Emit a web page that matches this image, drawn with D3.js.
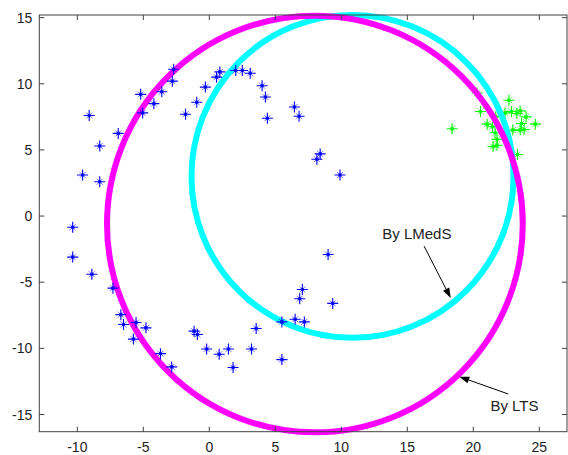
<!DOCTYPE html>
<html>
<head>
<meta charset="utf-8">
<script src="https://cdn.jsdelivr.net/npm/d3@7"></script>
<style>
  body { margin: 0; background: #fff; }
  svg { display: block; }
  text { font-family: Arial, "Liberation Sans", sans-serif; }
</style>
</head>
<body>
<svg id="chart" width="568" height="455"></svg>
<script>
// inlier points (blue stars)
var bluePts = [
  [-9.1, 7.6], [-8.3, 5.3], [-6.9, 6.25], [-5.2, 9.2], [-5.05, 7.8], [-4.2, 8.5],
  [-3.6, 9.4], [-2.8, 10.2], [-2.7, 11.1], [-1.8, 7.7], [-0.95, 8.6], [-9.6, 3.1],
  [-8.3, 2.6], [-10.35, -0.85], [-10.35, -3.1], [-8.9, -4.4], [-7.3, -5.45],
  [-6.7, -7.45], [-6.5, -8.2], [-5.55, -8.05], [-4.8, -8.45], [-5.75, -9.3],
  [-3.7, -10.4], [-2.85, -11.4], [-1.15, -8.7], [-0.9, -8.95], [-0.2, -10.05],
  [0.75, -10.45], [1.45, -10.05], [1.8, -11.45], [3.2, -10.05], [3.55, -8.5],
  [5.5, -10.85], [5.5, -8.0], [6.5, -7.8], [7.2, -8.0], [6.85, -6.25], [7.05, -5.55],
  [9.35, -6.6], [8.4, 4.7], [8.15, 4.3], [9.9, 3.1], [9.0, -2.9], [-0.3, 9.75],
  [0.55, 10.5], [0.8, 10.9], [2.0, 11.0], [2.5, 11.0], [3.1, 10.8], [4.0, 9.85],
  [4.25, 9.0], [4.4, 7.4], [6.45, 8.25], [6.8, 7.55]
];

// outlier cluster (green stars)
var greenPts = [
  [18.4, 6.6], [22.7, 8.75], [20.55, 7.9], [20.3, 9.3], [22.4, 7.8], [22.9, 7.9],
  [23.3, 7.75], [23.55, 7.95], [24.0, 7.5], [24.7, 6.95], [23.65, 7.0], [23.55, 6.5],
  [23.0, 6.5], [23.85, 6.55], [21.05, 6.95], [21.45, 6.75], [21.65, 6.3], [21.8, 5.8],
  [21.8, 5.35], [21.5, 5.25], [23.35, 4.65], [21.7, 7.5]
];

// fitted circles: [cx, cy, r]
var circleLMedS = [10.85, 3.0, 12.2];
var circleLTS = [8.0, -0.6, 15.75];

var xTicks = [-10, -5, 0, 5, 10, 15, 20, 25];
var yTicks = [-15, -10, -5, 0, 5, 10, 15];

// annotations: text anchor, arrow tail, arrow tip (data units)
var notes = [
  {label: "By LMedS", text: [13.1, -1.7], from: [16.27, -2.27], to: [18.29, -6.2]},
  {label: "By LTS", text: [21.3, -14.7], from: [22.65, -13.45], to: [18.94, -12.14]}
];

var svg = d3.select("#chart");
var boxL = 39.3, boxR = 567, boxT = 15, boxB = 431.7;

var scX = d3.scaleLinear().domain([-12.88, 27.1]).range([boxL, boxR]);
var scY = d3.scaleLinear().domain([-16.3, 15.2]).range([boxB, boxT]);

svg.append("rect").attr("width", 568).attr("height", 455).attr("fill", "#fff");

var plus = "M-5.5,0H5.5M0,-5.5V5.5";
var cross = "M-3,-3L3,3M-3,3L3,-3";

function drawStars(pts, col) {
  var g = svg.append("g").attr("stroke", col).attr("fill", col);
  var pos = d => "translate(" + scX(d[0]) + "," + scY(d[1]) + ")";
  g.selectAll("path.p").data(pts).enter().append("path")
    .attr("class", "p").attr("d", plus).attr("stroke-width", 1.1)
    .attr("transform", pos);
  g.selectAll("path.x").data(pts).enter().append("path")
    .attr("class", "x").attr("d", cross).attr("stroke-width", 1)
    .attr("stroke-opacity", 0.55).attr("transform", pos);
  g.selectAll("circle").data(pts).enter().append("circle")
    .attr("r", 1.8).attr("stroke", "none")
    .attr("cx", d => scX(d[0])).attr("cy", d => scY(d[1]));
}

function drawCircle(c, col) {
  svg.append("ellipse")
    .attr("cx", scX(c[0])).attr("cy", scY(c[1]))
    .attr("rx", scX(c[0] + c[2]) - scX(c[0]))
    .attr("ry", scY(c[1]) - scY(c[1] + c[2]))
    .attr("fill", "none").attr("stroke", col).attr("stroke-width", 6);
}

drawStars(greenPts, "#00ff00");
drawCircle(circleLMedS, "#00ffff");
drawCircle(circleLTS, "#ff00ff");
drawStars(bluePts, "#0000ff");

// axes box with inward ticks (MATLAB style)
var axis = svg.append("g").attr("stroke", "#404040").attr("stroke-width", 1).attr("fill", "none");
axis.append("rect").attr("x", boxL).attr("y", boxT)
  .attr("width", boxR - boxL).attr("height", boxB - boxT);

xTicks.forEach(function(t) {
  var x = scX(t);
  axis.append("line").attr("x1", x).attr("x2", x).attr("y1", boxB).attr("y2", boxB - 5);
  axis.append("line").attr("x1", x).attr("x2", x).attr("y1", boxT).attr("y2", boxT + 5);
});
yTicks.forEach(function(t) {
  var y = scY(t);
  axis.append("line").attr("x1", boxL).attr("x2", boxL + 5).attr("y1", y).attr("y2", y);
  axis.append("line").attr("x1", boxR).attr("x2", boxR - 5).attr("y1", y).attr("y2", y);
});

svg.append("g").selectAll("text").data(xTicks).enter().append("text")
  .attr("x", d => scX(d)).attr("y", boxB + 20)
  .attr("text-anchor", "middle").attr("fill", "#222").style("font-size", "14px")
  .text(d => d);

svg.append("g").selectAll("text").data(yTicks).enter().append("text")
  .attr("x", boxL - 7).attr("y", d => scY(d)).attr("dy", "0.36em")
  .attr("text-anchor", "end").attr("fill", "#222").style("font-size", "14px")
  .text(d => d);

// annotation arrows
notes.forEach(function(n) {
  var x1 = scX(n.from[0]), y1 = scY(n.from[1]);
  var x2 = scX(n.to[0]), y2 = scY(n.to[1]);
  var ang = Math.atan2(y2 - y1, x2 - x1);
  var len = 10, w = 3.5;
  var bx = x2 - len * Math.cos(ang), by = y2 - len * Math.sin(ang);
  svg.append("line").attr("x1", x1).attr("y1", y1).attr("x2", bx).attr("y2", by)
    .attr("stroke", "#000").attr("stroke-width", 1);
  var pts = [[x2, y2],
    [bx + w * Math.sin(ang), by - w * Math.cos(ang)],
    [bx - w * Math.sin(ang), by + w * Math.cos(ang)]];
  svg.append("polygon").attr("points", pts.map(p => p.join(",")).join(" ")).attr("fill", "#000");
  svg.append("text").attr("x", scX(n.text[0])).attr("y", scY(n.text[1]))
    .attr("fill", "#222").style("font-size", "15px").text(n.label);
});
</script>
</body>
</html>
